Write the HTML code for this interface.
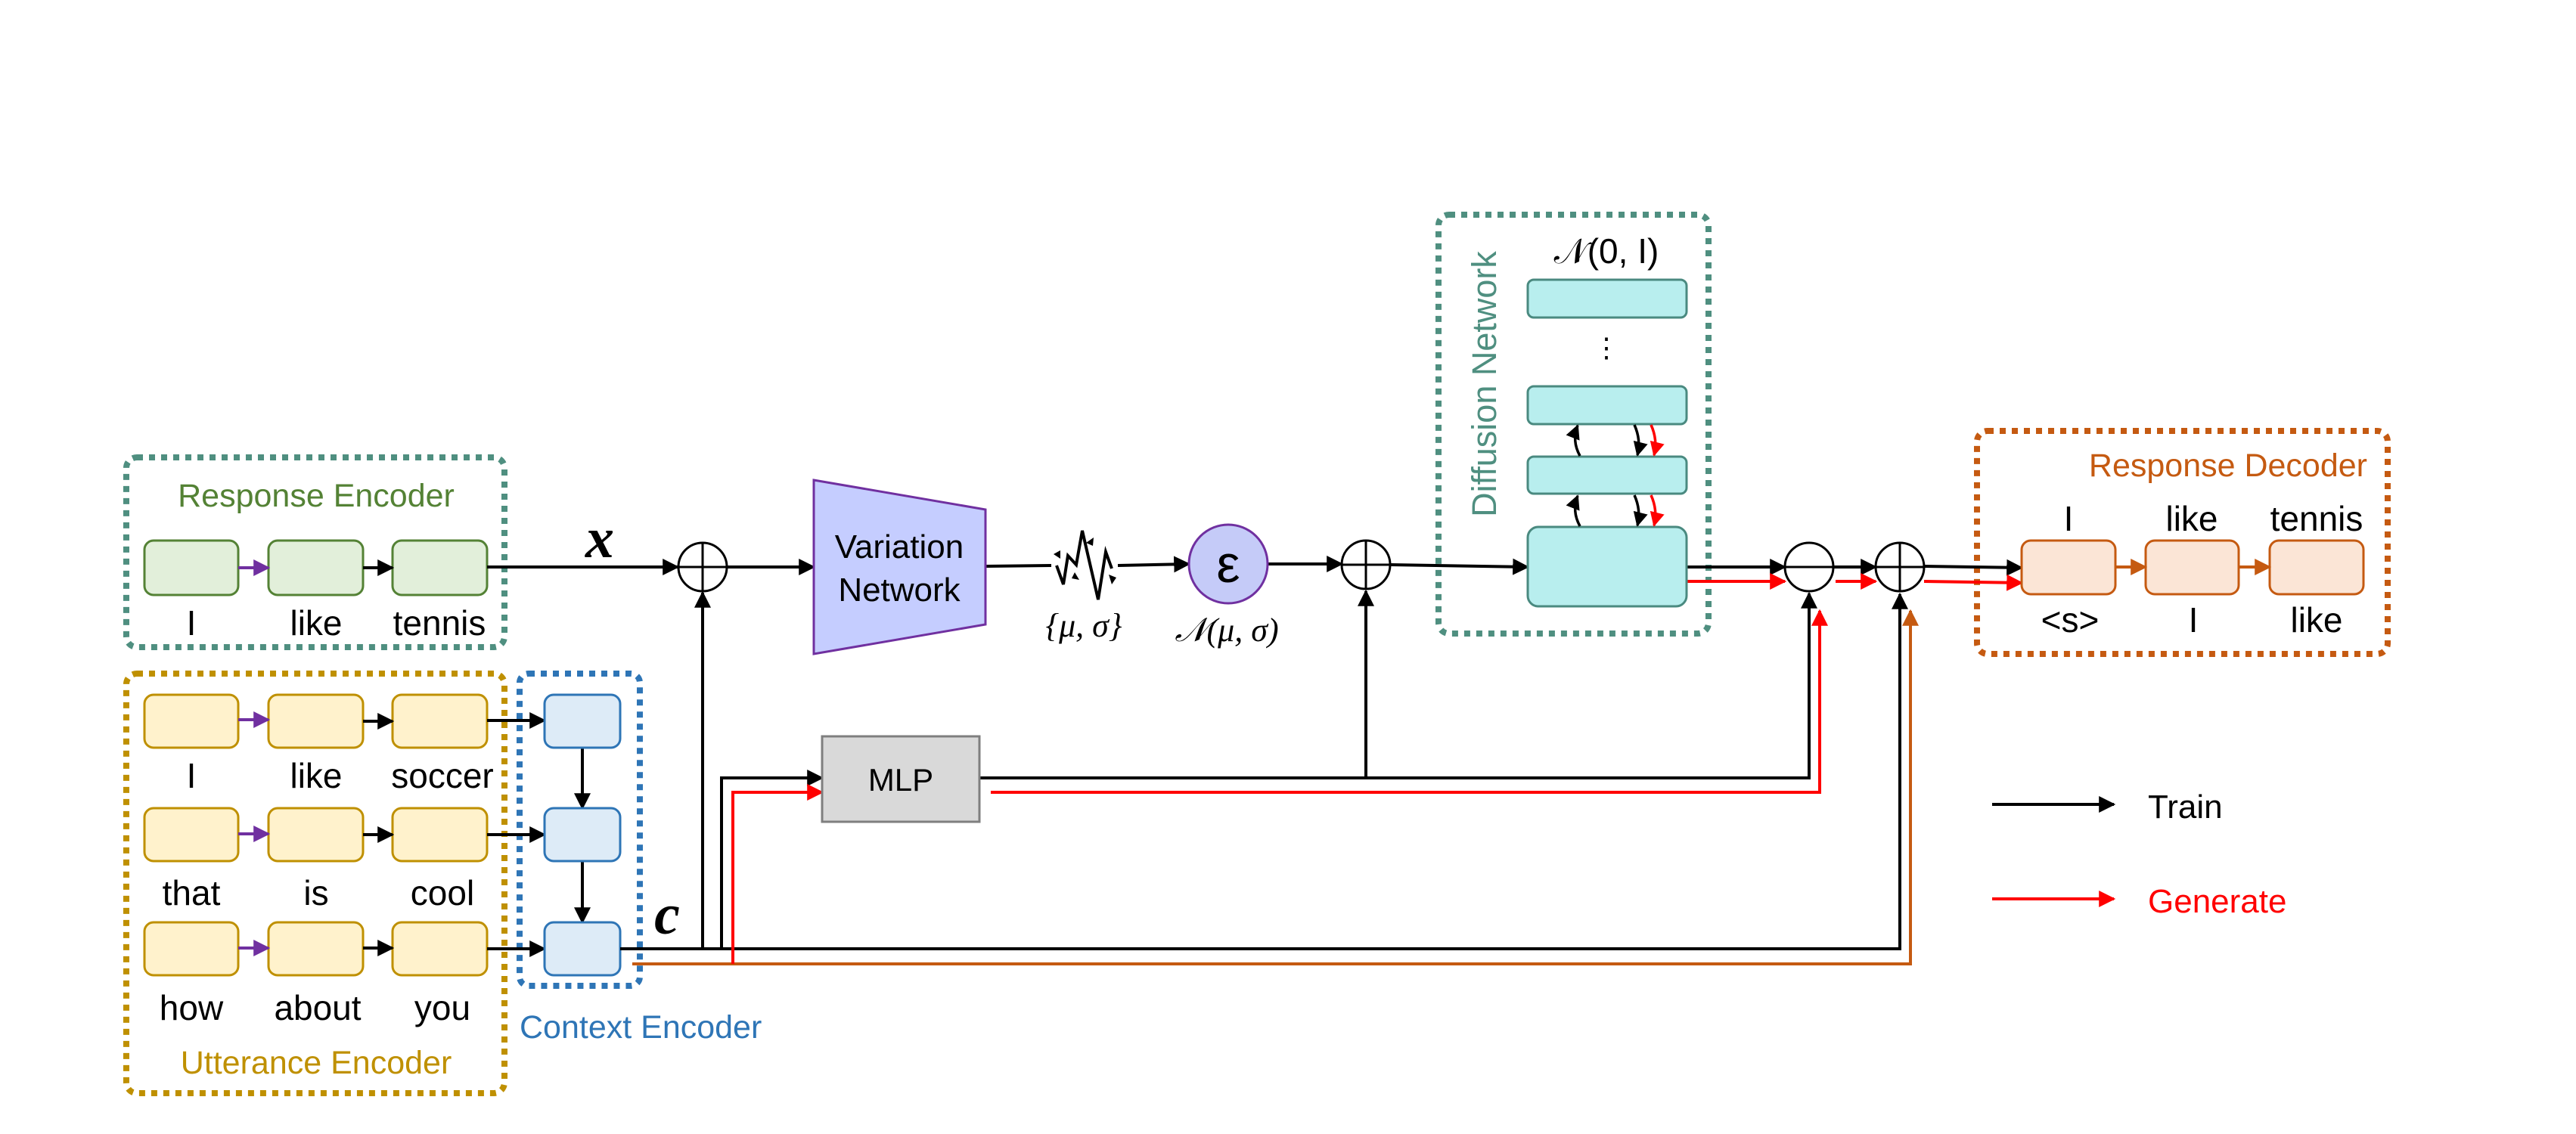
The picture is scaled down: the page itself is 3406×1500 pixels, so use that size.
<!DOCTYPE html>
<html><head><meta charset="utf-8"><style>
html,body{margin:0;padding:0;background:#fff}
svg{display:block}
text{font-family:"Liberation Sans",sans-serif}
.w{font-size:46px;fill:#000;text-anchor:middle}
.m{font-family:"Liberation Serif",serif;font-style:italic}
</style></head><body>
<svg width="3406" height="1500" viewBox="0 0 3406 1500" xmlns="http://www.w3.org/2000/svg">
<defs>
<marker id="ak" viewBox="0 0 10 10" refX="9" refY="5" markerWidth="5.5" markerHeight="5.5" orient="auto" markerUnits="strokeWidth"><path d="M0,0L10,5L0,10z" fill="#000"/></marker>
<marker id="ar" viewBox="0 0 10 10" refX="9" refY="5" markerWidth="5.5" markerHeight="5.5" orient="auto" markerUnits="strokeWidth"><path d="M0,0L10,5L0,10z" fill="#f00"/></marker>
<marker id="ap" viewBox="0 0 10 10" refX="9" refY="5" markerWidth="5.5" markerHeight="5.5" orient="auto" markerUnits="strokeWidth"><path d="M0,0L10,5L0,10z" fill="#7030a0"/></marker>
<marker id="ao" viewBox="0 0 10 10" refX="9" refY="5" markerWidth="5.5" markerHeight="5.5" orient="auto" markerUnits="strokeWidth"><path d="M0,0L10,5L0,10z" fill="#c55a11"/></marker>
</defs>

<g fill="none" stroke-width="8" stroke-dasharray="8 8">
<rect x="167" y="605" width="500" height="251" rx="14" stroke="#4f8f80"/>
<rect x="167" y="891" width="500" height="555" rx="14" stroke="#bf9000"/>
<rect x="687" y="891" width="159" height="413" rx="12" stroke="#2e75b6"/>
<rect x="1902" y="284" width="357" height="554" rx="14" stroke="#4f8f80"/>
<rect x="2614" y="570" width="543" height="295" rx="14" stroke="#c55a11"/>
</g>
<text x="418" y="670" font-size="43" fill="#548235" text-anchor="middle">Response Encoder</text>
<text x="418" y="1420" font-size="43" fill="#bf9000" text-anchor="middle">Utterance Encoder</text>
<text x="687" y="1373" font-size="43" fill="#2e75b6">Context Encoder</text>
<text x="3130" y="630" font-size="43" fill="#c55a11" text-anchor="end">Response Decoder</text>
<text transform="translate(1978,508) rotate(-90)" font-size="45" fill="#4f8f80" text-anchor="middle">Diffusion Network</text>

<g fill="#e2efda" stroke="#548235" stroke-width="3">
<rect x="191" y="715" width="124" height="72" rx="12"/>
<rect x="355" y="715" width="125" height="72" rx="12"/>
<rect x="519" y="715" width="125" height="72" rx="12"/>
</g>
<line x1="315" y1="751" x2="355" y2="751" stroke="#7030a0" stroke-width="4" marker-end="url(#ap)"/>
<line x1="480" y1="751" x2="519" y2="751" stroke="#000" stroke-width="4" marker-end="url(#ak)"/>
<text class="w" x="253" y="840">I</text><text class="w" x="418" y="840">like</text><text class="w" x="581" y="840">tennis</text>

<g fill="#fff2cc" stroke="#bf9000" stroke-width="3">
<rect x="191" y="919" width="124" height="70" rx="12"/><rect x="355" y="919" width="125" height="70" rx="12"/><rect x="519" y="919" width="125" height="70" rx="12"/>
<rect x="191" y="1069" width="124" height="70" rx="12"/><rect x="355" y="1069" width="125" height="70" rx="12"/><rect x="519" y="1069" width="125" height="70" rx="12"/>
<rect x="191" y="1220" width="124" height="70" rx="12"/><rect x="355" y="1220" width="125" height="70" rx="12"/><rect x="519" y="1220" width="125" height="70" rx="12"/>
</g>
<g stroke-width="4">
<line x1="315" y1="952" x2="355" y2="952" stroke="#7030a0" marker-end="url(#ap)"/>
<line x1="315" y1="1103" x2="355" y2="1103" stroke="#7030a0" marker-end="url(#ap)"/>
<line x1="315" y1="1254" x2="355" y2="1254" stroke="#7030a0" marker-end="url(#ap)"/>
<line x1="480" y1="954" x2="519" y2="954" stroke="#000" marker-end="url(#ak)"/>
<line x1="480" y1="1104" x2="519" y2="1104" stroke="#000" marker-end="url(#ak)"/>
<line x1="480" y1="1254" x2="519" y2="1254" stroke="#000" marker-end="url(#ak)"/>
<line x1="644" y1="953" x2="720" y2="953" stroke="#000" marker-end="url(#ak)"/>
<line x1="644" y1="1104" x2="720" y2="1104" stroke="#000" marker-end="url(#ak)"/>
<line x1="644" y1="1255" x2="720" y2="1255" stroke="#000" marker-end="url(#ak)"/>
<line x1="770" y1="989" x2="770" y2="1069" stroke="#000" marker-end="url(#ak)"/>
<line x1="770" y1="1139" x2="770" y2="1220" stroke="#000" marker-end="url(#ak)"/>
</g>
<text class="w" x="253" y="1042">I</text><text class="w" x="418" y="1042">like</text><text class="w" x="585" y="1042">soccer</text>
<text class="w" x="253" y="1197">that</text><text class="w" x="418" y="1197">is</text><text class="w" x="585" y="1197">cool</text>
<text class="w" x="253" y="1349">how</text><text class="w" x="420" y="1349">about</text><text class="w" x="585" y="1349">you</text>

<g fill="#ddebf7" stroke="#2e75b6" stroke-width="3">
<rect x="720" y="919" width="100" height="70" rx="12"/><rect x="720" y="1069" width="100" height="70" rx="12"/><rect x="720" y="1220" width="100" height="70" rx="12"/>
</g>
<text class="m" x="882" y="1235" font-size="76" font-weight="bold" text-anchor="middle">c</text>
<text class="m" x="793" y="737" font-size="76" font-weight="bold" text-anchor="middle">x</text>

<g fill="none" stroke-width="4">
<line x1="644" y1="750" x2="896" y2="750" stroke="#000" marker-end="url(#ak)"/>
<line x1="962" y1="750" x2="1076" y2="750" stroke="#000" marker-end="url(#ak)"/>
<polyline points="820,1255 2512,1255 2512,786" stroke="#000" marker-end="url(#ak)"/>
<line x1="929" y1="1255" x2="929" y2="784" stroke="#000" marker-end="url(#ak)"/>
<polyline points="954,1255 954,1029 1087,1029" stroke="#000" marker-end="url(#ak)"/>
<polyline points="836,1275 2526,1275 2526,808" stroke="#c55a11" marker-end="url(#ao)"/>
<polyline points="969,1275 969,1048 1087,1048" stroke="#f00" marker-end="url(#ar)"/>
<polyline points="1295,1029 2392,1029 2392,785" stroke="#000" marker-end="url(#ak)"/>
<polyline points="1310,1048 2406,1048 2406,808" stroke="#f00" marker-end="url(#ar)"/>
<line x1="1806" y1="1029" x2="1806" y2="782" stroke="#000" marker-end="url(#ak)"/>
<line x1="1303" y1="749" x2="1390" y2="748" stroke="#000"/>
<line x1="1478" y1="748" x2="1572" y2="746" stroke="#000" marker-end="url(#ak)"/>
<line x1="1676" y1="746" x2="1774" y2="746" stroke="#000" marker-end="url(#ak)"/>
<line x1="1838" y1="747" x2="2020" y2="750" stroke="#000" marker-end="url(#ak)"/>
<line x1="2230" y1="750" x2="2360" y2="750" stroke="#000" marker-end="url(#ak)"/>
<line x1="2230" y1="769" x2="2360" y2="769" stroke="#f00" marker-end="url(#ar)"/>
<line x1="2424" y1="750" x2="2480" y2="750" stroke="#000" marker-end="url(#ak)"/>
<line x1="2427" y1="769" x2="2480" y2="769" stroke="#f00" marker-end="url(#ar)"/>
<line x1="2544" y1="749" x2="2673" y2="751" stroke="#000" marker-end="url(#ak)"/>
<line x1="2544" y1="769" x2="2673" y2="771" stroke="#f00" marker-end="url(#ar)"/>
</g>

<g fill="#fff" stroke="#000" stroke-width="3">
<circle cx="929" cy="750" r="32"/><path d="M897,750H961M929,718V782"/>
<circle cx="1806" cy="747" r="32"/><path d="M1774,747H1838M1806,715V779"/>
<circle cx="2392" cy="750" r="32"/><path d="M2360,750H2424"/>
<circle cx="2512" cy="750" r="32"/><path d="M2480,750H2544M2512,718V782"/>
</g>

<polygon points="1076,635 1303,674 1303,826 1076,865" fill="#c5cdff" stroke="#7030a0" stroke-width="3"/>
<text x="1189" y="738" font-size="44" text-anchor="middle">Variation</text>
<text x="1189" y="795" font-size="44" text-anchor="middle">Network</text>
<polyline points="1397,748 1406,773 1412,735 1423,747 1431,702 1452,793 1462,730 1470,752" fill="none" stroke="#000" stroke-width="4"/>
<g fill="#000"><path d="M1393,733l9,-5l0,11z"/><path d="M1421,757l6,10l-10,-2z"/><path d="M1445,722l-9,-4l10,-7z"/><path d="M1466,760l10,4l-6,9z"/></g>
<text x="1433" y="842" font-size="44" text-anchor="middle" class="m">{μ, σ}</text>
<circle cx="1624" cy="746" r="52" fill="#c5cbf8" stroke="#7030a0" stroke-width="3"/>
<text x="1624" y="770" font-size="70" text-anchor="middle" font-family="Liberation Serif">ε</text>
<text x="1622" y="848" font-size="44" text-anchor="middle" class="m">𝒩(μ, σ)</text>

<rect x="1087" y="974" width="208" height="113" fill="#d9d9d9" stroke="#7f7f7f" stroke-width="3"/>
<text x="1191" y="1046" font-size="42" text-anchor="middle">MLP</text>

<text x="2124" y="348" font-size="46" text-anchor="middle" font-family="Liberation Serif">𝒩(0, I)</text>
<g fill="#b8eeee" stroke="#4a8a80" stroke-width="3">
<rect x="2020" y="370" width="210" height="50" rx="8"/>
<rect x="2020" y="511" width="210" height="50" rx="8"/>
<rect x="2020" y="604" width="210" height="49" rx="8"/>
<rect x="2020" y="697" width="210" height="105" rx="14"/>
</g>
<text x="2124" y="472" font-size="36" text-anchor="middle">⋮</text>
<g fill="none" stroke-width="3.5">
<path d="M2089,603 Q2078,583 2086,563" stroke="#000" marker-end="url(#ak)"/>
<path d="M2089,696 Q2078,676 2086,656" stroke="#000" marker-end="url(#ak)"/>
<path d="M2161,562 Q2170,582 2165,602" stroke="#000" marker-end="url(#ak)"/>
<path d="M2161,655 Q2170,675 2165,695" stroke="#000" marker-end="url(#ak)"/>
<path d="M2183,562 Q2192,582 2187,602" stroke="#f00" marker-end="url(#ar)"/>
<path d="M2183,655 Q2192,675 2187,695" stroke="#f00" marker-end="url(#ar)"/>
</g>

<g fill="#fbe5d6" stroke="#c55a11" stroke-width="3">
<rect x="2673" y="715" width="124" height="71" rx="12"/>
<rect x="2837" y="715" width="123" height="71" rx="12"/>
<rect x="3001" y="715" width="124" height="71" rx="12"/>
</g>
<line x1="2797" y1="750" x2="2837" y2="750" stroke="#c55a11" stroke-width="4" marker-end="url(#ao)"/>
<line x1="2960" y1="750" x2="3001" y2="750" stroke="#c55a11" stroke-width="4" marker-end="url(#ao)"/>
<text class="w" x="2735" y="702">I</text><text class="w" x="2898" y="702">like</text><text class="w" x="3063" y="702">tennis</text>
<text class="w" x="2737" y="836" font-size="42">&lt;s&gt;</text><text class="w" x="2900" y="836">I</text><text class="w" x="3063" y="836">like</text>

<line x1="2634" y1="1064" x2="2795" y2="1064" stroke="#000" stroke-width="4" marker-end="url(#ak)"/>
<text x="2840" y="1082" font-size="44">Train</text>
<line x1="2634" y1="1189" x2="2795" y2="1189" stroke="#f00" stroke-width="4" marker-end="url(#ar)"/>
<text x="2840" y="1207" font-size="44" fill="#f00">Generate</text>
</svg>
</body></html>
